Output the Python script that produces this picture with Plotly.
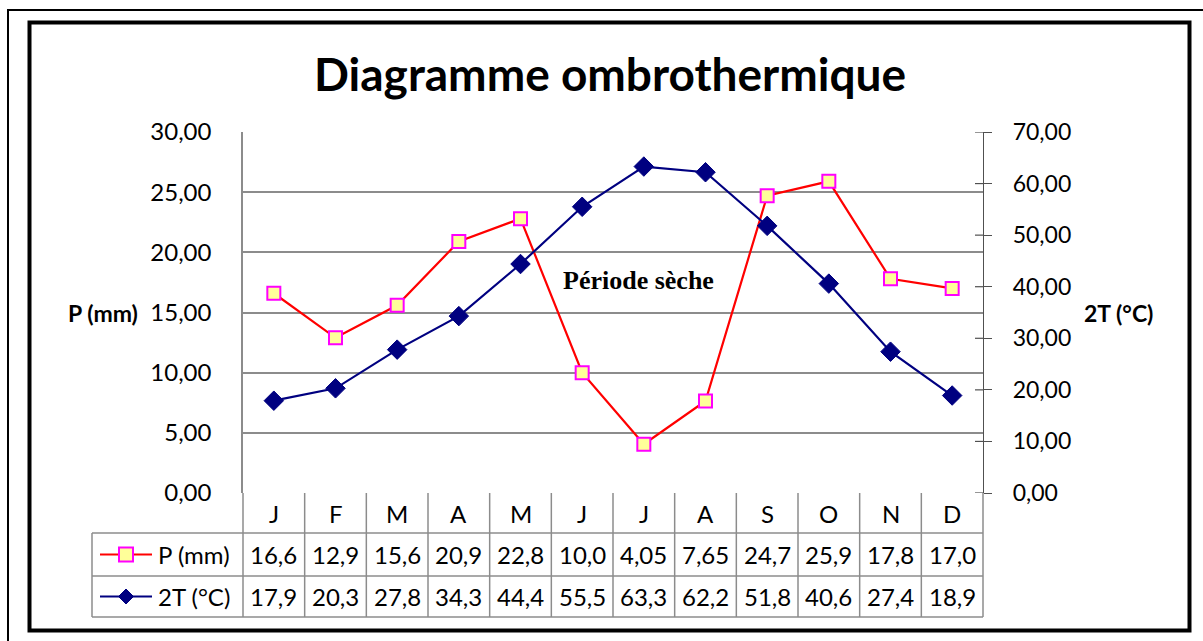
import plotly.graph_objects as go

# ---- data ----
months = ["J", "F", "M", "A", "M", "J", "J", "A", "S", "O", "N", "D"]
precip = [16.6, 12.9, 15.6, 20.9, 22.8, 10.0, 4.05, 7.65, 24.7, 25.9, 17.8, 17.0]
temp2 = [17.9, 20.3, 27.8, 34.3, 44.4, 55.5, 63.3, 62.2, 51.8, 40.6, 27.4, 18.9]
right_ticks = [0, 10, 20, 30, 40, 50, 60, 70]
series_names = ["P (mm)", "2T (°C)"]
title_text = "Diagramme ombrothermique"
annotation_text = "Période sèche"

# ---- layout geometry (pixels) ----
W, H = 1203, 641
L, R, T, B = 243, 220, 132, 148
PW, PH = W - L - R, H - T - B
FONT = "Lato"
GRAY = "#8c8c8c"
AXC = "#505050"
RED = "#ff0000"
NAVY = "#000080"
TXT = 24


def px(X):
    return (X - L) / PW


def py(Y):
    return (H - B - Y) / PH


def fmt(v):
    return f"{v:#.3g}".replace(".", ",")


xs = list(range(len(months)))
fig = go.Figure()
fig.add_trace(go.Scatter(
    x=xs, y=precip, name=series_names[0], yaxis="y",
    mode="lines+markers", line=dict(color=RED, width=2.2),
    marker=dict(symbol="square", size=13, color="#ffff99",
                line=dict(color="#ff00ff", width=2)),
    cliponaxis=False, showlegend=False))
fig.add_trace(go.Scatter(
    x=xs, y=temp2, name=series_names[1], yaxis="y2",
    mode="lines+markers", line=dict(color=NAVY, width=2.2),
    marker=dict(symbol="diamond", size=15, color=NAVY,
                line=dict(color=NAVY, width=1)),
    cliponaxis=False, showlegend=False))

shapes = []
annotations = []

# frames
shapes.append(dict(type="line", xref="paper", yref="paper",
                   x0=px(8), x1=px(8), y0=py(10), y1=py(641),
                   line=dict(color="black", width=2)))
shapes.append(dict(type="line", xref="paper", yref="paper",
                   x0=px(7), x1=px(1203), y0=py(10), y1=py(10),
                   line=dict(color="black", width=2)))
shapes.append(dict(type="rect", xref="paper", yref="paper",
                   x0=px(29.5), x1=px(1189.5), y0=py(22.5), y1=py(630.5),
                   line=dict(color="black", width=4)))

# inner half of the right axis cross ticks
for v in right_ticks:
    shapes.append(dict(type="line", xref="paper", yref="y2",
                       x0=1 - 8 / PW, x1=1, y0=v, y1=v,
                       line=dict(color=AXC, width=1.2)))

# data table
row_y = [H - B, 533, 576, 617]
legend_left = 92
for Y in row_y[1:]:
    shapes.append(dict(type="line", xref="paper", yref="paper",
                       x0=px(legend_left), x1=1, y0=py(Y), y1=py(Y),
                       line=dict(color=GRAY, width=1.5)))
shapes.append(dict(type="line", xref="paper", yref="paper",
                   x0=px(legend_left), x1=px(legend_left), y0=py(533), y1=py(617),
                   line=dict(color=GRAY, width=1.5)))
for i in range(len(months) + 1):
    if i == 0 or i == len(months):
        shapes.append(dict(type="line", xref="paper", yref="paper",
                           x0=0 if i == 0 else 1, x1=0 if i == 0 else 1,
                           y0=py(493), y1=py(617),
                           line=dict(color=GRAY, width=1.5)))
    else:
        shapes.append(dict(type="line", xref="x", yref="paper",
                           x0=i - 0.5, x1=i - 0.5, y0=py(493), y1=py(617),
                           line=dict(color=GRAY, width=1.5)))

row_centers = [(row_y[k] + row_y[k + 1]) / 2 for k in range(3)]
for i, m in enumerate(months):
    annotations.append(dict(xref="x", yref="paper", x=i, y=py(row_centers[0]),
                            text=m, showarrow=False, yanchor="middle",
                            font=dict(family=FONT, size=TXT, color="black")))
    annotations.append(dict(xref="x", yref="paper", x=i, y=py(row_centers[1]),
                            text=fmt(precip[i]), showarrow=False, yanchor="middle",
                            font=dict(family=FONT, size=TXT, color="black")))
    annotations.append(dict(xref="x", yref="paper", x=i, y=py(row_centers[2]),
                            text=fmt(temp2[i]), showarrow=False, yanchor="middle",
                            font=dict(family=FONT, size=TXT, color="black")))

# legend keys inside the table
for k, (name, col) in enumerate(zip(series_names, [RED, NAVY])):
    yc = row_centers[k + 1]
    shapes.append(dict(type="line", xref="paper", yref="paper",
                       x0=px(100), x1=px(152), y0=py(yc), y1=py(yc),
                       line=dict(color=col, width=2.2)))
    if k == 0:
        shapes.append(dict(type="rect", xref="paper", yref="paper",
                           x0=px(119), x1=px(133), y0=py(yc + 7), y1=py(yc - 7),
                           fillcolor="#ffff99", line=dict(color="#ff00ff", width=2)))
    else:
        d = 7.5
        path = (f"M {px(126 - d)},{py(yc)} L {px(126)},{py(yc - d)} "
                f"L {px(126 + d)},{py(yc)} L {px(126)},{py(yc + d)} Z")
        shapes.append(dict(type="path", xref="paper", yref="paper", path=path,
                           fillcolor=NAVY, line=dict(color=NAVY, width=1)))
    annotations.append(dict(xref="paper", yref="paper", x=px(156), y=py(yc),
                            text=name, showarrow=False, xanchor="left",
                            yanchor="middle",
                            font=dict(family=FONT, size=TXT, color="black")))

# titles
annotations.append(dict(xref="paper", yref="paper", x=px(610), y=py(73),
                        text=f"<b>{title_text}</b>", showarrow=False,
                        xanchor="center", yanchor="middle",
                        font=dict(family=FONT, size=46, color="black")))
annotations.append(dict(xref="paper", yref="paper", x=px(103), y=py(313),
                        text=f"<b>{series_names[0]}</b>", showarrow=False,
                        xanchor="center", yanchor="middle",
                        font=dict(family=FONT, size=23, color="black")))
annotations.append(dict(xref="paper", yref="paper", x=px(1118), y=py(313),
                        text=f"<b>{series_names[1]}</b>", showarrow=False,
                        xanchor="center", yanchor="middle",
                        font=dict(family=FONT, size=23, color="black")))
annotations.append(dict(xref="x", yref="y", x=5.92, y=17.7,
                        text=f"<b>{annotation_text}</b>", showarrow=False,
                        xanchor="center", yanchor="middle",
                        font=dict(family="Liberation Serif", size=26, color="black")))

fig.update_layout(
    width=W, height=H, autosize=False,
    margin=dict(l=L, r=R, t=T, b=B, pad=0),
    paper_bgcolor="white", plot_bgcolor="white",
    separators=", ",
    showlegend=False,
    xaxis=dict(range=[-0.5, 11.5], showticklabels=False, showgrid=False,
               zeroline=False, showline=False, ticks=""),
    yaxis=dict(range=[0, 30], dtick=5, tick0=0, tickformat=".2f",
               showgrid=True, gridcolor=GRAY, gridwidth=1.5,
               zeroline=False, showline=True, linecolor=GRAY, linewidth=1.5,
               ticks="", ticklabelstandoff=25,
               tickfont=dict(family=FONT, size=TXT, color="black")),
    yaxis2=dict(range=[0, 70], tickmode="array", tickvals=right_ticks,
                tickformat=".2f",
                overlaying="y", side="right", showgrid=False, zeroline=False,
                showline=True, linecolor=AXC, linewidth=1.2,
                ticks="outside", ticklen=8, tickcolor=AXC, tickwidth=1.2,
                ticklabelstandoff=16,
                tickfont=dict(family=FONT, size=23, color="black")),
    shapes=shapes,
    annotations=annotations,
)

fig.write_html("out.html",
               config={"displayModeBar": False},
               post_script="document.body.style.margin='0';"
                           "document.body.style.overflow='hidden';")
